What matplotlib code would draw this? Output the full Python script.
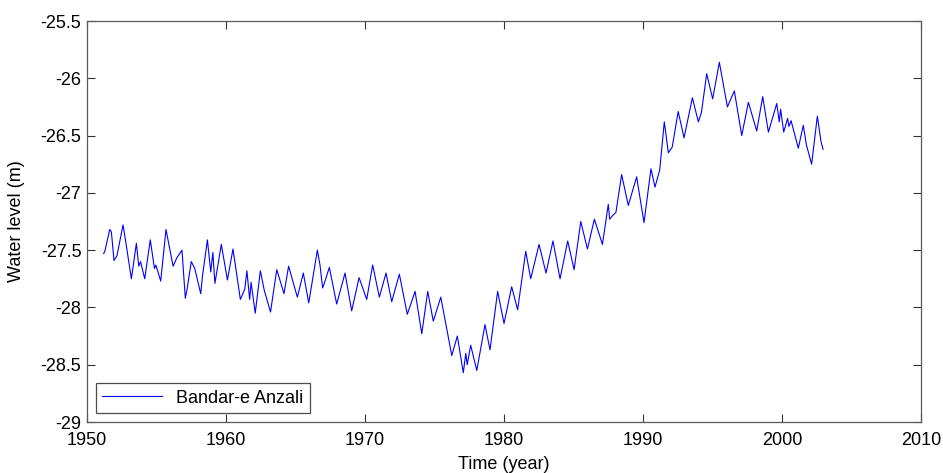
# Water level at Bandar-e Anzali
import matplotlib
matplotlib.use('Agg')
import matplotlib.pyplot as plt
import numpy as np
from matplotlib.ticker import FuncFormatter, MultipleLocator

# decimal year of each turning point / intermediate point
years = [1951.20, 1951.30, 1951.63, 1951.75, 1951.94, 1952.15, 1952.59, 1952.75,
         1953.19, 1953.55, 1953.72, 1953.85, 1954.15, 1954.55, 1954.85, 1954.95,
         1955.30, 1955.68, 1956.19, 1956.45, 1956.83, 1957.07, 1957.20, 1957.50,
         1957.75, 1958.18, 1958.30, 1958.66, 1958.90, 1959.05, 1959.20, 1959.66,
         1960.10, 1960.50, 1961.03, 1961.35, 1961.50, 1961.70, 1961.80, 1962.10,
         1962.47, 1962.75, 1963.20, 1963.65, 1964.17, 1964.50, 1965.13, 1965.56,
         1965.95, 1966.57, 1966.76, 1966.95, 1967.15, 1967.43, 1967.96, 1968.56,
         1969.04, 1969.57, 1970.12, 1970.55, 1971.03, 1971.51, 1971.92, 1972.15,
         1972.47, 1973.04, 1973.60, 1974.08, 1974.51, 1974.91, 1975.45, 1976.24,
         1976.64, 1977.07, 1977.25, 1977.35, 1977.60, 1978.04, 1978.63, 1978.99,
         1979.54, 1980.00, 1980.55, 1980.98, 1981.56, 1981.92, 1982.52, 1983.02,
         1983.52, 1984.03, 1984.58, 1985.04, 1985.52, 1986.00, 1986.50, 1987.08,
         1987.50, 1987.60, 1987.80, 1988.05, 1988.46, 1988.94, 1989.54, 1990.07,
         1990.57, 1990.86, 1991.20, 1991.53, 1991.82, 1992.10, 1992.53, 1992.95,
         1993.55, 1993.98, 1994.20, 1994.58, 1995.01, 1995.49, 1996.07, 1996.57,
         1997.10, 1997.58, 1998.18, 1998.61, 1999.02, 1999.62, 1999.80, 1999.90,
         2000.12, 2000.40, 2000.50, 2000.65, 2001.17, 2001.53, 2001.75, 2002.13,
         2002.54, 2002.80, 2002.95]

# water level (m)
level = [-27.53, -27.50, -27.32, -27.34, -27.59, -27.55, -27.28, -27.40,
         -27.75, -27.44, -27.64, -27.60, -27.75, -27.41, -27.66, -27.63,
         -27.77, -27.32, -27.64, -27.57, -27.50, -27.92, -27.84, -27.60,
         -27.66, -27.88, -27.73, -27.41, -27.69, -27.52, -27.79, -27.45,
         -27.76, -27.49, -27.93, -27.84, -27.68, -27.93, -27.78, -28.05,
         -27.68, -27.85, -28.04, -27.67, -27.88, -27.64, -27.91, -27.70,
         -27.96, -27.50, -27.63, -27.83, -27.76, -27.65, -27.97, -27.70,
         -28.03, -27.74, -27.93, -27.63, -27.91, -27.70, -27.95, -27.85,
         -27.71, -28.06, -27.86, -28.23, -27.86, -28.12, -27.91, -28.42,
         -28.25, -28.57, -28.40, -28.50, -28.33, -28.55, -28.15, -28.37,
         -27.86, -28.14, -27.82, -28.02, -27.51, -27.75, -27.45, -27.70,
         -27.42, -27.75, -27.42, -27.67, -27.25, -27.49, -27.23, -27.45,
         -27.10, -27.23, -27.20, -27.17, -26.84, -27.11, -26.86, -27.26,
         -26.79, -26.95, -26.80, -26.38, -26.65, -26.60, -26.29, -26.52,
         -26.17, -26.38, -26.30, -25.96, -26.18, -25.86, -26.25, -26.11,
         -26.50, -26.21, -26.46, -26.16, -26.47, -26.22, -26.38, -26.27,
         -26.47, -26.35, -26.42, -26.37, -26.61, -26.41, -26.58, -26.75,
         -26.33, -26.55, -26.62]

plt.rcParams['font.family'] = ['Liberation Sans', 'DejaVu Sans']
plt.rcParams['font.size'] = 13

fig = plt.figure(figsize=(9.43, 4.73), dpi=100)
ax = fig.add_axes([0.0923, 0.1078, 0.8844, 0.8478])

ax.plot(years, level, color='#0000ff', linewidth=0.8, label='Bandar-e Anzali')

ax.set_xlim(1950, 2010)
ax.set_ylim(-29, -25.5)
ax.xaxis.set_major_locator(MultipleLocator(10))
ax.yaxis.set_major_locator(MultipleLocator(0.5))
ax.yaxis.set_major_formatter(FuncFormatter(lambda v, p: '%g' % v))

ax.tick_params(direction='in', length=6, width=0.8, top=True, right=True,
               labelsize=13, color='0.2')
ax.tick_params(axis='x', pad=7)
ax.tick_params(axis='y', pad=4)
for s in ax.spines.values():
    s.set_color('0.35')
    s.set_linewidth(0.9)

ax.set_xlabel('Time (year)', fontsize=13, labelpad=5)
ax.set_ylabel('Water level (m)', fontsize=13, labelpad=11)

leg = ax.legend(loc='lower left', fancybox=False, framealpha=1, borderaxespad=0.5,
                handlelength=3.3, borderpad=0.35, fontsize=13)
leg.get_frame().set_edgecolor('0.3')
leg.get_frame().set_linewidth(0.9)

plt.savefig('out.png', dpi=100)
